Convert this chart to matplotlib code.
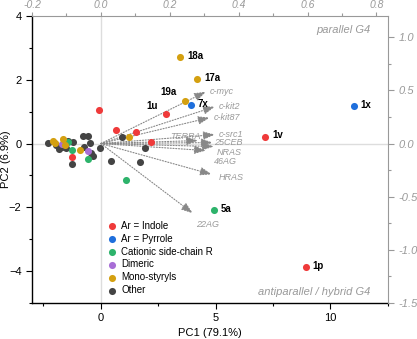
import matplotlib
matplotlib.use("Agg")
import matplotlib.pyplot as plt
from matplotlib.ticker import MultipleLocator

plt.rcParams['font.family'] = ['Liberation Sans', 'DejaVu Sans']

# scores (PC1, PC2) by group
indole_x = [-0.10, 0.65, 1.51, 2.18, 2.84, 7.16, 8.92, -1.27]
indole_y = [1.04, 0.41, 0.37, 0.05, 0.93, 0.21, -3.88, -0.43]
pyrrole_x = [3.91, 11.02]
pyrrole_y = [1.20, 1.17]
cationic_x = [1.09, 4.93, -1.41, -1.24, -0.54]
cationic_y = [-1.13, -2.09, 0.04, -0.19, -0.48]
dimeric_x = [-1.68, -0.58]
dimeric_y = [-0.01, -0.24]
mono_x = [-2.10, -2.00, -1.63, -1.55, -0.93, 1.24, 3.67, 4.19, 3.45]
mono_y = [0.09, 0.03, 0.13, -0.05, -0.19, 0.21, 1.34, 2.01, 2.71]
other_x = [-2.29, -1.94, -1.82, -1.70, -1.41, -1.21, -1.50, -1.25, -0.80,
           -0.54, -0.47, -0.44, -0.34, -0.72, -0.03, 0.90, 1.93, 0.45, 1.69]
other_y = [0.02, -0.05, -0.16, -0.10, 0.07, 0.04, -0.15, -0.64, 0.25,
           0.23, 0.02, -0.29, -0.40, -0.10, -0.14, 0.22, -0.14, -0.56, -0.58]

# labelled compounds
names = ['18a', '17a', '19a', '7x', '1u', '1x', '1v', '5a', '1p']
names_x = [3.45, 4.19, 3.67, 3.91, 2.84, 11.02, 7.16, 4.93, 8.92]
names_y = [2.71, 2.01, 1.34, 1.20, 0.93, 1.17, 0.21, -2.09, -3.88]

# loadings (top / right axes)
seqs = ['c-myc', 'c-kit2', 'c-kit87', 'c-src1', 'TERRA', '25CEB', 'NRAS', '46AG', 'HRAS', '22AG']
load_x = [0.305, 0.331, 0.316, 0.331, 0.282, 0.325, 0.328, 0.305, 0.322, 0.267]
load_y = [0.487, 0.347, 0.244, 0.084, 0.028, 0.009, -0.028, -0.066, -0.290, -0.656]

SX = 15.0       # bottom units per top unit
SY = 10.0 / 3   # left units per right unit

fig = plt.figure(figsize=(4.17, 3.39), dpi=100)
ax = fig.add_axes([0.0767, 0.106, 0.8535, 0.847])
ax.set_xlim(-3, 12.5)
ax.set_ylim(-5, 4)

ax.axhline(0, color='#dddddd', lw=1, zorder=0)
ax.axvline(0, color='#dddddd', lw=1, zorder=0)

# arrows
offs = {'c-myc': (3, 0), 'c-kit2': (3, 0), 'c-kit87': (3, 0), 'c-src1': (3, 0),
        'TERRA': (-20, 3), '25CEB': (1, 0), 'NRAS': (2, -4), '46AG': (6, -8),
        'HRAS': (5, -2), '22AG': (2, -8)}
for s, lx, ly in zip(seqs, load_x, load_y):
    ax.annotate('', xy=(lx * SX, ly * SY), xytext=(0, 0),
                arrowprops=dict(arrowstyle='-|>,head_length=0.7,head_width=0.25',
                                color='#888888', lw=0.8, linestyle=(0, (1, 1.5)),
                                shrinkA=0, shrinkB=0), zorder=2)
    dx, dy = offs[s]
    ax.annotate(s, (lx * SX, ly * SY), xytext=(dx, dy), textcoords='offset points',
                fontsize=6.5, style='italic', color='#999999', va='center', ha='left')

ms = 26
ax.scatter(other_x, other_y, s=ms, color='#444444', label='Other', zorder=3, lw=0)
ax.scatter(indole_x, indole_y, s=ms, color='#ef3a3a', label='Ar = Indole', zorder=4, lw=0)
ax.scatter(pyrrole_x, pyrrole_y, s=ms, color='#1f6fdc', label='Ar = Pyrrole', zorder=4, lw=0)
ax.scatter(cationic_x, cationic_y, s=ms, color='#2db36b', label='Cationic side-chain R', zorder=4, lw=0)
ax.scatter(dimeric_x, dimeric_y, s=ms, color='#a86ed6', label='Dimeric', zorder=4, lw=0)
ax.scatter(mono_x, mono_y, s=ms, color='#d4a010', label='Mono-styryls', zorder=4, lw=0)

name_offs = {'1u': (-14, 6), '19a': (-18, 6)}
for n, x, y in zip(names, names_x, names_y):
    dx, dy = name_offs.get(n, (5, 1))
    ax.annotate(n, (x, y), xytext=(dx, dy), textcoords='offset points',
                fontsize=7, fontweight='bold', va='center', ha='left')

h, l = ax.get_legend_handles_labels()
order = [1, 2, 3, 4, 5, 0]
leg = ax.legend([h[i] for i in order], [l[i] for i in order], loc='lower left',
                bbox_to_anchor=(0.175, 0.0), frameon=False, fontsize=7,
                handletextpad=0.0, labelspacing=0.3, borderpad=0.3, scatterpoints=1)

ax.text(0.95, 0.95, 'parallel G4', transform=ax.transAxes, ha='right', va='center',
        fontsize=8, style='italic', color='#999999')
ax.text(0.95, 0.04, 'antiparallel / hybrid G4', transform=ax.transAxes, ha='right',
        va='center', fontsize=8, style='italic', color='#999999')

ax.set_xlabel('PC1 (79.1%)', fontsize=8, labelpad=3)
ax.set_ylabel('PC2 (6.9%)', fontsize=8)
ax.yaxis.set_label_coords(-0.06, 0.5)
ax.xaxis.set_major_locator(MultipleLocator(5))
ax.xaxis.set_minor_locator(MultipleLocator(2.5))
ax.yaxis.set_major_locator(MultipleLocator(2))
ax.yaxis.set_minor_locator(MultipleLocator(1))
ax.tick_params(which='both', labelsize=8, direction='out', width=0.8)
ax.tick_params(which='major', length=4)
ax.tick_params(which='minor', length=2.5)
for sp in ['left', 'bottom']:
    ax.spines[sp].set_linewidth(1)
for sp in ['top', 'right']:
    ax.spines[sp].set_visible(False)

gray = '#999999'
axt = ax.twiny()
axt.set_xlim(-3 / SX, 12.5 / SX)
axt.xaxis.set_minor_locator(MultipleLocator(0.1))
axt.set_xticks([-0.2, 0.0, 0.2, 0.4, 0.6, 0.8])
axt.set_xticklabels(['-0.2', '0.0', '0.2', '0.4', '0.6', '0.8'])
axr = ax.twinx()
axr.set_ylim(-5 / SY, 4 / SY)
axr.yaxis.set_minor_locator(MultipleLocator(0.25))
axr.set_yticks([-1.5, -1.0, -0.5, 0.0, 0.5, 1.0])
axr.set_yticklabels(['-1.5', '-1.0', '-0.5', '0.0', '0.5', '1.0'])
for a in (axt, axr):
    for sp in a.spines.values():
        sp.set_visible(False)
    a.tick_params(which='both', labelsize=8, colors=gray, direction='out', width=0.8)
    a.tick_params(which='major', length=4)
    a.tick_params(which='minor', length=2.5)
    for t in a.get_xticklabels() + a.get_yticklabels():
        t.set_style('italic')
axt.tick_params(which='major', length=3, pad=1.5, labelsize=7.5)
axt.tick_params(which='minor', length=2)
axt.spines['top'].set_visible(True)
axt.spines['top'].set_color(gray)
axr.spines['right'].set_visible(True)
axr.spines['right'].set_color(gray)

fig.savefig('out.png', dpi=100)
